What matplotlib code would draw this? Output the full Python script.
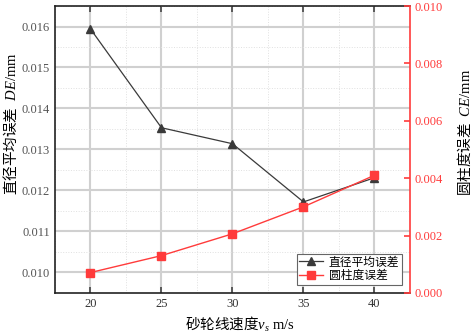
import numpy as np
import matplotlib
matplotlib.use('Agg')
import matplotlib.pyplot as plt
from matplotlib.ticker import MultipleLocator

plt.rcParams['font.family'] = ['Liberation Serif', 'Noto Sans CJK SC']
plt.rcParams['mathtext.fontset'] = 'custom'
plt.rcParams['mathtext.rm'] = 'Noto Sans CJK SC'
plt.rcParams['mathtext.it'] = 'Liberation Serif:italic'
plt.rcParams['mathtext.sf'] = 'Liberation Serif'

# data
speed = [20, 25, 30, 35, 40]
de_values = [0.01594, 0.01353, 0.01314, 0.01172, 0.01231]
ce_values = [0.00071, 0.00130, 0.00206, 0.00300, 0.00410]

de_label = '直径平均误差'
ce_label = '圆柱度误差'

red = '#ff3b3b'
dark = '#3a3a3a'

fig = plt.figure(figsize=(4.72, 3.34), dpi=100)
ax1 = fig.add_axes([0.1165, 0.123, 0.752, 0.859])
ax2 = ax1.twinx()

# grid
ax1.set_xlim(17.5, 42.5)
ax1.set_ylim(0.0095, 0.0165)
ax1.xaxis.set_major_locator(MultipleLocator(5))
ax1.xaxis.set_minor_locator(MultipleLocator(2.5))
ax1.yaxis.set_major_locator(MultipleLocator(0.001))
ax1.yaxis.set_minor_locator(MultipleLocator(0.0005))
ax1.grid(True, which='major', color='#d0d0d0', linewidth=1.5)
ax1.grid(True, which='minor', color='#e0e0e0', linewidth=0.7, linestyle=':')
ax1.set_axisbelow(True)

l1, = ax1.plot(speed, de_values, color=dark, linewidth=0.9, marker='^',
               markersize=6, label=de_label, zorder=3)
l2, = ax2.plot(speed, ce_values, color=red, linewidth=1.0, marker='s',
               markersize=5.5, label=ce_label, zorder=3)

ax2.set_ylim(0, 0.010)
ax2.yaxis.set_major_locator(MultipleLocator(0.002))

ax1.yaxis.set_major_formatter(plt.FuncFormatter(lambda v, p: f'{v:.3f}'))
ax2.yaxis.set_major_formatter(plt.FuncFormatter(lambda v, p: f'{v:.3f}'))

ax1.tick_params(axis='x', which='major', direction='in', top=True, length=4,
                width=1.2, color='#444444', labelsize=9, labelcolor='#333333')
ax1.tick_params(axis='x', which='minor', length=0)
ax1.tick_params(axis='y', which='major', direction='in', length=0,
                labelsize=9, labelcolor='#555555')
ax1.tick_params(axis='y', which='minor', length=0)
ax2.tick_params(axis='y', direction='in', length=4, width=1.2, color=red,
                labelsize=9, labelcolor=red)

for side in ['left', 'top', 'bottom']:
    ax1.spines[side].set_linewidth(1.2)
    ax1.spines[side].set_color('#222222')
ax2.spines['right'].set_color(red)
ax2.spines['right'].set_linewidth(1.2)
ax2.spines['left'].set_visible(False)
ax2.spines['top'].set_visible(False)
ax2.spines['bottom'].set_visible(False)
ax1.spines['right'].set_visible(False)

ax1.set_xlabel(r'$\mathrm{砂轮线速度}\mathit{v_s}\mathsf{\ m/s}$',
               fontsize=10.5)
ax1.set_ylabel(r'$\mathrm{直径平均误差}\ \ \mathit{DE}\mathsf{/mm}$',
               fontsize=10.5)
ax2.set_ylabel(r'$\mathrm{圆柱度误差}\ \ \mathit{CE}\mathsf{/mm}$',
               fontsize=10.5)
ax1.xaxis.set_label_coords(0.52, -0.075)
ax1.yaxis.set_label_coords(-0.10, 0.59)
ax2.yaxis.set_label_coords(1.13, 0.56)

leg = ax2.legend(handles=[l1, l2], loc='lower right', fontsize=8.5,
                 frameon=True, fancybox=False, framealpha=1,
                 edgecolor='#666666', borderpad=0.2, handlelength=2.0,
                 handletextpad=0.5, labelspacing=0.15, borderaxespad=0.7)
leg.get_frame().set_linewidth(0.8)

fig.savefig('out.png', dpi=100)
